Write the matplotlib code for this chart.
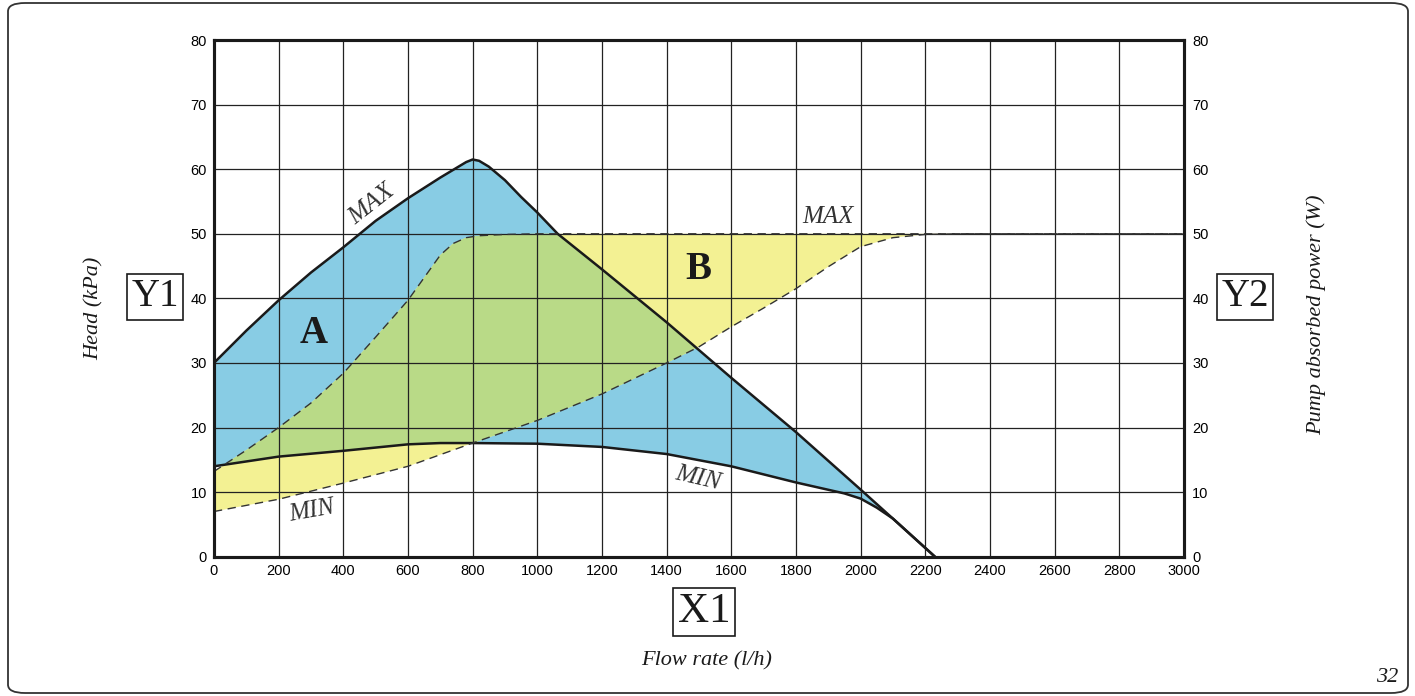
import numpy as np
import matplotlib
matplotlib.use("Agg")
import matplotlib.pyplot as plt
from matplotlib.patches import FancyBboxPatch

# Head curves (kPa) vs flow rate (l/h)
head_max_x = [0, 100, 200, 300, 400, 500, 600, 700, 750, 780, 800, 820, 850, 900, 950, 1000, 1063,
              1200, 1400, 1600, 1800, 2000, 2100, 2230]
head_max_y = [30, 35.0, 39.7, 44.0, 47.9, 52.0, 55.5, 58.7, 60.2, 61.1, 61.5, 61.3, 60.4, 58.3, 55.7,
              53.3, 50, 44.5, 36.3, 27.7, 19.3, 10.4, 5.9, 0]
head_min_x = [0, 200, 400, 600, 700, 800, 1000, 1200, 1400, 1600, 1800, 1950, 2000, 2050, 2100, 2230]
head_min_y = [14.0, 15.5, 16.4, 17.4, 17.6, 17.6, 17.5, 17.0, 15.9, 14.0, 11.5, 9.8, 9.0, 7.6, 5.9, 0]

# Pump absorbed power (W) vs flow rate (l/h)
power_max_x = [0, 100, 200, 300, 400, 500, 600, 660, 700, 740, 780, 820, 900, 1000, 3000]
power_max_y = [13.2, 16.5, 20.0, 23.8, 28.4, 34.0, 39.7, 43.9, 46.7, 48.5, 49.4, 49.7, 49.9, 50, 50]
power_min_x = [0, 200, 400, 600, 800, 1000, 1200, 1400, 1500, 1600, 1700, 1800, 1900, 2000,
               2100, 2200, 2300, 3000]
power_min_y = [7.0, 8.9, 11.4, 14.0, 17.6, 21.1, 25.2, 30.0, 32.5, 35.6, 38.5, 41.5, 44.9, 48.0,
               49.4, 49.9, 50, 50]

x_ticks = list(range(0, 3001, 200))
y_ticks = list(range(0, 81, 10))

BLUE = "#88cce4"
YELLOW = "#f3f193"
GREEN = "#b9da87"
SERIF = "Liberation Serif"
SANS = "Liberation Sans"

fig = plt.figure(figsize=(14.15, 6.96), dpi=100)
ax = fig.add_axes([0.1512, 0.2001, 0.6855, 0.7424])

# area A (head), area B (power) and their overlap
poly_a_x = head_max_x + head_min_x[::-1]
poly_a_y = head_max_y + head_min_y[::-1]
poly_b_x = power_max_x + power_min_x[::-1]
poly_b_y = power_max_y + power_min_y[::-1]
patch_a = ax.fill(poly_a_x, poly_a_y, color=BLUE, lw=0, zorder=1)[0]
ax.fill(poly_b_x, poly_b_y, color=YELLOW, lw=0, zorder=1)
overlap = ax.fill(poly_b_x, poly_b_y, color=GREEN, lw=0, zorder=1.1)[0]
overlap.set_clip_path(patch_a)

# grid above the fills
ax.set_axisbelow(False)
ax.grid(True, color="#222222", lw=0.9)

ax.plot(head_max_x, head_max_y, color="#1a1a1a", lw=1.8, zorder=3, solid_joinstyle="round")
ax.plot(head_min_x, head_min_y, color="#1a1a1a", lw=1.8, zorder=3, solid_joinstyle="round")
ax.plot(power_max_x, power_max_y, color="#333333", lw=1.0, ls=(0, (6, 4)), zorder=3)
ax.plot(power_min_x, power_min_y, color="#333333", lw=1.0, ls=(0, (6, 4)), zorder=3)

ax.set_xlim(0, 3000)
ax.set_ylim(0, 80)
ax.set_xticks(x_ticks)
ax.set_yticks(y_ticks)
ax.tick_params(length=0, labelsize=10.5, pad=5)
for lab in ax.get_xticklabels() + ax.get_yticklabels():
    lab.set_fontfamily(SANS)
for s in ax.spines.values():
    s.set_linewidth(2.2)
    s.set_color("#1a1a1a")

ax2 = ax.twinx()
ax2.set_ylim(0, 80)
ax2.set_yticks(y_ticks)
ax2.tick_params(length=0, labelsize=10.5, pad=6)
for lab in ax2.get_yticklabels():
    lab.set_fontfamily(SANS)
for s in ax2.spines.values():
    s.set_linewidth(2.2)
    s.set_color("#1a1a1a")

# curve labels
ax.text(309, 34.6, "A", fontsize=28, fontweight="bold", family=SERIF, color="#1a1a1a",
        ha="center", va="center", zorder=4)
ax.text(1497, 44.4, "B", fontsize=28, fontweight="bold", family=SERIF, color="#1a1a1a",
        ha="center", va="center", zorder=4)
ax.text(489, 54.6, "MAX", fontsize=18, style="italic", family=SERIF, color="#333333",
        rotation=38, ha="center", va="center", zorder=4)
ax.text(1899, 52.6, "MAX", fontsize=18, style="italic", family=SERIF, color="#333333",
        ha="center", va="center", zorder=4)
ax.text(303, 7.0, "MIN", fontsize=18, style="italic", family=SERIF, color="#333333",
        rotation=10, ha="center", va="center", zorder=4)
ax.text(1497, 12.1, "MIN", fontsize=18, style="italic", family=SERIF, color="#333333",
        rotation=-13, ha="center", va="center", zorder=4)

# axis titles and boxed labels
box = dict(boxstyle="square,pad=0.12", fc="white", ec="#1a1a1a", lw=1.2)
fig.text(155 / 1415, 1 - 297 / 696, "Y1", fontsize=28, family=SERIF, color="#1a1a1a",
         ha="center", va="center", bbox=box)
fig.text(1245 / 1415, 1 - 297 / 696, "Y2", fontsize=28, family=SERIF, color="#1a1a1a",
         ha="center", va="center", bbox=box)
fig.text(704 / 1415, 1 - 612 / 696, "X1", fontsize=31, family=SERIF, color="#1a1a1a",
         ha="center", va="center", bbox=box)
fig.text(94 / 1415, 1 - 308 / 696, "Head (kPa)", fontsize=16, style="italic", family=SERIF,
         color="#1a1a1a", rotation=90, ha="center", va="center")
fig.text(1316 / 1415, 1 - 315 / 696, "Pump absorbed power (W)", fontsize=16, style="italic",
         family=SERIF, color="#1a1a1a", rotation=90, ha="center", va="center")
fig.text(707 / 1415, 1 - 661 / 696, "Flow rate (l/h)", fontsize=16, style="italic",
         family=SERIF, color="#1a1a1a", ha="center", va="center")
fig.text(1387 / 1415, 1 - 677 / 696, "32", fontsize=16, style="italic", family=SERIF,
         color="#1a1a1a", ha="center", va="center")

# rounded frame round the page
frame = FancyBboxPatch((8 / 1415, 3 / 696), 1400 / 1415, 690 / 696,
                       boxstyle="round,pad=0,rounding_size=0.012",
                       transform=fig.transFigure, fc="none", ec="#333333", lw=1.3)
fig.patches.append(frame)

fig.savefig("out.png", dpi=100)
